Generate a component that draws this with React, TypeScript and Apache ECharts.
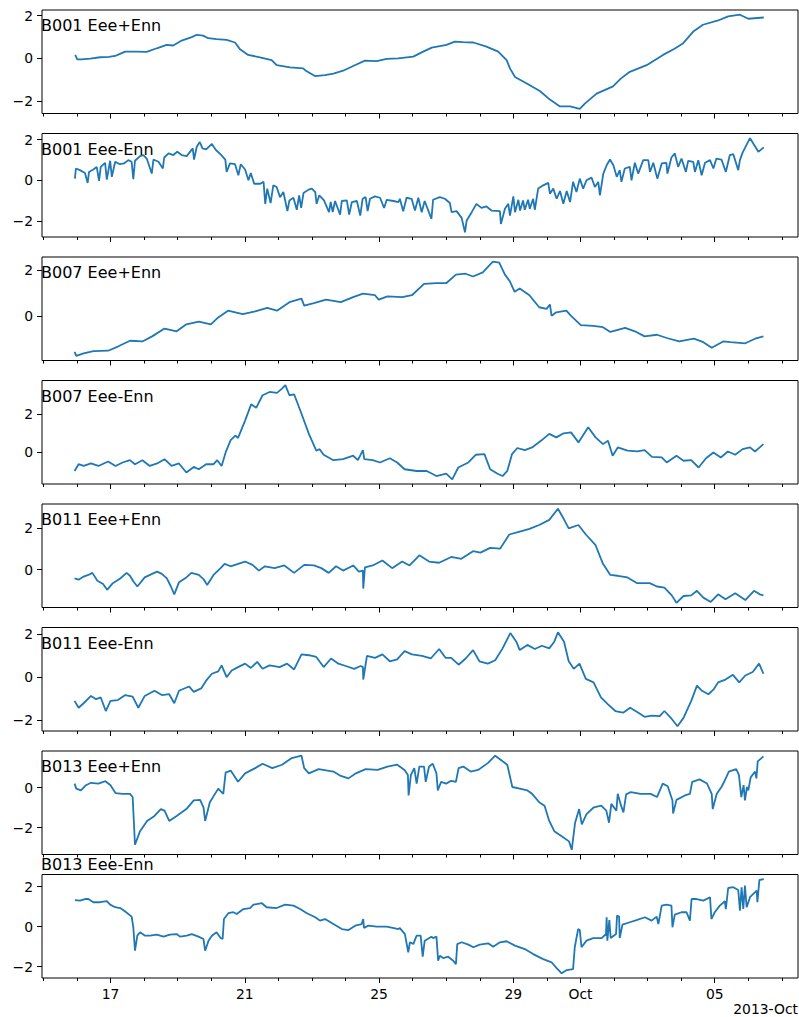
import React, { useEffect, useRef } from "react";
import * as echarts from "echarts";

// x values are calendar days counted from 1 Sep 2013 (Sep 17 -> 17, Oct 1 -> 31, Oct 5 -> 35)
const panelTitles = [
  "B001 Eee+Enn",
  "B001 Eee-Enn",
  "B007 Eee+Enn",
  "B007 Eee-Enn",
  "B011 Eee+Enn",
  "B011 Eee-Enn",
  "B013 Eee+Enn",
  "B013 Eee-Enn",
];

const b001Sum: [number, number][] = [
  [15.95, 0.16], [16.01, -0.05], [16.14, -0.05], [16.4, -0.01], [16.69, 0.05], [16.95, 0.07],
  [17.14, 0.11], [17.3, 0.22], [17.44, 0.31], [17.75, 0.31], [18.08, 0.3], [18.38, 0.47],
  [18.67, 0.63], [18.87, 0.6], [19.12, 0.83], [19.42, 0.99], [19.57, 1.1], [19.76, 1.06],
  [19.91, 0.94], [20.16, 0.9], [20.46, 0.86], [20.71, 0.74], [20.86, 0.42], [21.1, 0.16],
  [21.45, 0.05], [21.8, -0.08], [21.95, -0.32], [22.35, -0.42], [22.74, -0.47], [22.82, -0.58],
  [23.09, -0.83], [23.39, -0.79], [23.64, -0.71], [23.93, -0.58], [24.23, -0.36], [24.58, -0.11],
  [24.93, -0.13], [25.23, -0.03], [25.57, 0.0], [26.02, 0.08], [26.3, 0.3], [26.57, 0.5],
  [27.01, 0.63], [27.26, 0.78], [27.5, 0.76], [27.81, 0.74], [28.2, 0.55], [28.55, 0.31],
  [28.8, -0.08], [28.9, -0.47], [29.05, -0.87], [29.4, -1.18], [29.79, -1.53], [30.09, -1.93],
  [30.39, -2.25], [30.69, -2.25], [30.98, -2.36], [31.13, -2.12], [31.48, -1.65], [31.97, -1.31],
  [32.2, -0.95], [32.47, -0.63], [32.97, -0.32], [33.46, 0.16], [33.8, 0.45], [34.06, 0.71],
  [34.36, 1.25], [34.65, 1.57], [35.1, 1.77], [35.4, 1.96], [35.75, 2.04], [36.0, 1.85],
  [36.46, 1.91],
];

const b001Diff: [number, number][] = [
  [15.94, 0.08], [15.97, 0.58], [16.09, 0.5], [16.24, 0.36], [16.32, -0.13], [16.36, 0.41],
  [16.49, 0.53], [16.59, 0.66], [16.66, -0.03], [16.71, 0.66], [16.84, 0.86], [16.89, 0.03],
  [16.99, 0.96], [17.04, 0.17], [17.14, 0.91], [17.28, 0.79], [17.4, 0.83], [17.53, 0.99],
  [17.63, 0.91], [17.68, 0.05], [17.73, 0.96], [17.88, 1.19], [17.98, 1.24], [18.08, 1.07],
  [18.23, 0.33], [18.28, 1.02], [18.43, 0.91], [18.56, 0.58], [18.6, 1.12], [18.73, 1.32],
  [18.87, 1.24], [18.99, 1.4], [19.12, 1.24], [19.27, 1.19], [19.45, 1.57], [19.49, 1.02],
  [19.57, 1.65], [19.66, 1.88], [19.74, 1.57], [19.85, 1.52], [20.02, 1.79], [20.14, 1.49],
  [20.28, 1.27], [20.42, 1.02], [20.46, 0.41], [20.56, 0.83], [20.71, 0.79], [20.81, 0.25],
  [20.88, 0.79], [21.01, 0.53], [21.11, 0.0], [21.18, 0.36], [21.28, -0.17], [21.46, -0.17],
  [21.56, -0.08], [21.61, -1.16], [21.67, -0.41], [21.77, -1.12], [21.85, -0.25], [21.95, -0.33],
  [22.05, -0.83], [22.15, -0.58], [22.27, -1.52], [22.33, -0.99], [22.45, -0.86], [22.55, -1.45],
  [22.62, -0.74], [22.68, -1.36], [22.75, -0.63], [22.9, -0.46], [23.0, -0.41], [23.1, -0.58],
  [23.14, -1.16], [23.22, -0.74], [23.36, -0.99], [23.51, -1.57], [23.56, -1.07], [23.62, -1.57],
  [23.69, -1.02], [23.84, -1.69], [23.89, -1.02], [24.04, -0.99], [24.11, -1.69], [24.19, -1.07],
  [24.34, -1.02], [24.44, -1.74], [24.51, -0.91], [24.6, -0.83], [24.66, -1.52], [24.73, -0.91],
  [24.88, -0.79], [25.03, -0.86], [25.15, -1.36], [25.23, -0.96], [25.43, -1.02], [25.58, -1.07],
  [25.62, -0.91], [25.72, -1.52], [25.82, -0.86], [25.97, -0.91], [26.07, -1.49], [26.17, -0.86],
  [26.27, -1.57], [26.36, -1.02], [26.56, -1.9], [26.61, -0.96], [26.81, -0.83], [26.96, -0.91],
  [27.11, -1.12], [27.16, -1.57], [27.31, -1.52], [27.46, -1.85], [27.56, -2.56], [27.61, -1.98],
  [27.76, -1.57], [27.9, -1.16], [28.05, -1.36], [28.2, -1.29], [28.35, -1.49], [28.6, -1.52],
  [28.63, -2.15], [28.75, -1.4], [28.85, -1.16], [28.9, -1.74], [29.0, -0.79], [29.05, -1.57],
  [29.15, -0.96], [29.2, -1.49], [29.29, -0.99], [29.34, -1.45], [29.44, -0.96], [29.49, -1.4],
  [29.59, -0.91], [29.64, -1.45], [29.74, -0.41], [29.89, -0.25], [30.04, -0.13], [30.09, -0.66],
  [30.19, -0.41], [30.29, -0.91], [30.39, -0.53], [30.49, -1.16], [30.59, -0.53], [30.69, -1.07],
  [30.78, -0.08], [30.88, -0.58], [30.98, 0.08], [31.08, -0.41], [31.18, 0.0], [31.33, 0.13],
  [31.43, -0.33], [31.53, -0.08], [31.58, -0.74], [31.68, 0.33], [31.78, 0.74], [31.88, 1.02],
  [31.98, 0.74], [32.08, 0.17], [32.17, 0.5], [32.22, -0.08], [32.32, 0.58], [32.47, 0.66],
  [32.52, 0.0], [32.62, 0.86], [32.72, 0.33], [32.87, 0.99], [33.02, 0.99], [33.07, 0.41],
  [33.17, 0.86], [33.29, 0.08], [33.42, 0.83], [33.56, 0.86], [33.59, 0.33], [33.71, 1.12],
  [33.81, 1.32], [33.91, 0.66], [34.01, 1.07], [34.14, 0.41], [34.21, 0.96], [34.36, 0.91],
  [34.41, 0.41], [34.51, 0.99], [34.61, 0.25], [34.71, 0.86], [34.86, 0.99], [34.96, 0.58],
  [35.05, 1.07], [35.2, 1.02], [35.33, 0.41], [35.45, 1.24], [35.55, 1.29], [35.7, 0.5],
  [35.75, 0.99], [35.83, 1.36], [36.05, 2.07], [36.3, 1.4], [36.46, 1.62],
];

const b007Sum: [number, number][] = [
  [15.93, -1.53], [15.98, -1.7], [16.2, -1.6], [16.49, -1.5], [16.93, -1.48], [17.22, -1.3],
  [17.58, -1.05], [17.95, -1.08], [18.24, -0.86], [18.61, -0.52], [18.97, -0.64], [19.26, -0.34],
  [19.63, -0.22], [19.99, -0.34], [20.21, -0.04], [20.5, 0.25], [20.94, 0.1], [21.31, 0.22],
  [21.67, 0.37], [21.96, 0.25], [22.33, 0.62], [22.69, 0.77], [22.77, 0.47], [23.06, 0.58],
  [23.42, 0.73], [23.86, 0.62], [24.23, 0.84], [24.52, 0.99], [24.88, 0.92], [24.99, 0.73],
  [25.25, 0.87], [25.69, 0.84], [25.98, 0.92], [26.34, 1.41], [26.71, 1.44], [27.0, 1.44],
  [27.29, 1.81], [27.58, 1.85], [27.8, 1.73], [28.09, 1.91], [28.39, 2.37], [28.58, 2.33],
  [28.75, 1.81], [28.9, 1.51], [29.04, 1.07], [29.19, 1.21], [29.48, 0.92], [29.77, 0.4],
  [29.99, 0.33], [30.09, 0.52], [30.14, 0.03], [30.28, 0.18], [30.58, 0.25], [30.72, 0.03],
  [31.01, -0.37], [31.38, -0.41], [31.67, -0.46], [31.89, -0.67], [32.33, -0.49], [32.62, -0.64],
  [32.91, -0.86], [33.28, -0.79], [33.57, -0.93], [33.94, -1.08], [34.38, -0.96], [34.66, -1.11],
  [34.91, -1.35], [35.25, -1.08], [35.47, -1.11], [35.91, -1.16], [36.2, -0.96], [36.45, -0.86],
];

const b007Diff: [number, number][] = [
  [15.93, -0.96], [16.05, -0.61], [16.2, -0.7], [16.42, -0.57], [16.64, -0.7], [16.93, -0.47],
  [17.15, -0.7], [17.36, -0.52], [17.58, -0.4], [17.73, -0.61], [17.95, -0.4], [18.17, -0.7],
  [18.39, -0.57], [18.61, -0.35], [18.82, -0.7], [19.04, -0.57], [19.26, -1.04], [19.48, -0.75],
  [19.63, -0.87], [19.85, -0.61], [20.07, -0.61], [20.18, -0.4], [20.31, -0.7], [20.43, 0.0],
  [20.58, 0.64], [20.72, 0.87], [20.8, 0.75], [21.01, 1.65], [21.19, 2.49], [21.34, 2.31],
  [21.53, 2.96], [21.74, 3.13], [21.96, 3.08], [22.11, 3.3], [22.21, 3.48], [22.33, 2.96],
  [22.47, 3.01], [22.69, 2.0], [22.91, 0.96], [23.13, 0.09], [23.23, 0.17], [23.35, -0.12],
  [23.64, -0.4], [23.93, -0.35], [24.23, -0.17], [24.37, -0.4], [24.52, 0.12], [24.56, -0.35],
  [24.81, -0.4], [25.03, -0.52], [25.32, -0.3], [25.54, -0.52], [25.76, -0.87], [26.12, -0.96],
  [26.42, -0.96], [26.71, -1.22], [27.0, -1.1], [27.18, -1.39], [27.36, -0.78], [27.66, -0.52],
  [27.88, -0.12], [28.14, -0.09], [28.31, -0.87], [28.53, -1.1], [28.68, -1.22], [28.82, -0.96],
  [28.96, -0.09], [29.12, 0.23], [29.34, 0.12], [29.56, 0.26], [29.85, 0.64], [30.07, 0.96],
  [30.28, 0.78], [30.5, 0.99], [30.72, 1.04], [30.94, 0.52], [31.23, 1.3], [31.45, 0.78],
  [31.67, 0.43], [31.82, 0.61], [31.96, -0.17], [32.11, 0.26], [32.4, 0.09], [32.69, 0.05],
  [32.91, 0.12], [33.13, -0.23], [33.42, -0.26], [33.57, -0.52], [33.86, -0.17], [34.07, -0.43],
  [34.3, -0.4], [34.52, -0.78], [34.74, -0.3], [34.96, 0.0], [35.18, -0.26], [35.39, 0.05],
  [35.61, -0.12], [35.83, 0.17], [36.05, 0.26], [36.2, 0.05], [36.34, 0.26], [36.45, 0.43],
];

const b011Sum: [number, number][] = [
  [15.93, -0.43], [16.05, -0.49], [16.2, -0.34], [16.34, -0.26], [16.46, -0.16], [16.61, -0.54],
  [16.78, -0.7], [16.9, -0.98], [17.07, -0.66], [17.29, -0.43], [17.48, -0.16], [17.58, -0.3],
  [17.69, -0.59], [17.8, -0.82], [18.02, -0.38], [18.24, -0.21], [18.39, -0.1], [18.53, -0.21],
  [18.68, -0.43], [18.8, -0.82], [18.9, -1.2], [19.04, -0.62], [19.26, -0.38], [19.41, -0.16],
  [19.63, -0.26], [19.77, -0.46], [19.88, -0.75], [20.07, -0.26], [20.28, 0.07], [20.4, 0.28],
  [20.58, 0.16], [20.8, 0.28], [21.01, 0.39], [21.23, 0.23], [21.42, -0.05], [21.6, 0.16],
  [21.89, 0.07], [22.18, 0.2], [22.47, -0.16], [22.77, 0.23], [23.06, 0.2], [23.28, 0.07],
  [23.5, -0.16], [23.72, 0.16], [23.93, -0.05], [24.23, 0.2], [24.4, -0.1], [24.52, -0.05],
  [24.53, -0.92], [24.58, 0.11], [24.81, 0.2], [25.1, 0.44], [25.39, 0.07], [25.69, 0.39],
  [25.91, 0.2], [26.2, 0.69], [26.49, 0.39], [26.79, 0.33], [27.15, 0.61], [27.45, 0.52],
  [27.8, 0.89], [28.02, 0.82], [28.31, 1.05], [28.61, 1.02], [28.88, 1.7], [29.19, 1.84],
  [29.48, 1.97], [29.77, 2.16], [30.07, 2.41], [30.33, 2.95], [30.5, 2.46], [30.65, 2.0],
  [30.94, 2.16], [31.16, 1.7], [31.45, 1.18], [31.67, 0.28], [31.89, -0.26], [32.11, -0.3],
  [32.4, -0.38], [32.69, -0.66], [33.06, -0.66], [33.28, -0.82], [33.5, -0.87], [33.72, -1.25],
  [33.86, -1.61], [34.07, -1.28], [34.3, -1.25], [34.47, -1.03], [34.66, -1.36], [34.88, -1.57],
  [35.1, -1.2], [35.32, -1.44], [35.61, -1.15], [35.91, -1.48], [36.17, -1.03], [36.34, -1.2],
  [36.45, -1.25],
];

const b011Diff: [number, number][] = [
  [15.93, -1.1], [16.05, -1.42], [16.2, -1.21], [16.42, -0.87], [16.57, -1.02], [16.71, -0.94],
  [16.86, -1.57], [17.0, -1.1], [17.22, -1.06], [17.44, -0.83], [17.66, -0.9], [17.83, -1.42],
  [18.02, -0.87], [18.31, -0.63], [18.53, -0.83], [18.75, -0.79], [18.9, -1.21], [19.04, -0.63],
  [19.34, -0.43], [19.48, -0.68], [19.7, -0.52], [19.85, -0.16], [20.02, 0.16], [20.21, 0.27],
  [20.31, 0.55], [20.46, 0.0], [20.61, 0.31], [20.8, 0.47], [21.01, 0.63], [21.18, 0.43],
  [21.37, 0.71], [21.53, 0.39], [21.74, 0.55], [22.04, 0.47], [22.26, 0.63], [22.47, 0.36],
  [22.69, 1.06], [22.91, 1.02], [23.13, 0.94], [23.35, 0.47], [23.57, 0.87], [23.79, 0.63],
  [24.01, 0.52], [24.26, 0.39], [24.45, 0.52], [24.52, 0.47], [24.53, -0.11], [24.64, 0.99],
  [24.88, 0.9], [25.1, 1.06], [25.32, 0.74], [25.54, 0.83], [25.76, 1.21], [25.98, 1.06],
  [26.28, 0.99], [26.54, 0.87], [26.79, 1.31], [26.98, 0.9], [27.15, 0.9], [27.37, 0.58],
  [27.58, 0.87], [27.8, 1.26], [27.99, 0.74], [28.24, 0.63], [28.46, 0.79], [28.68, 1.34],
  [28.91, 2.05], [29.09, 1.65], [29.19, 1.26], [29.42, 1.5], [29.64, 1.31], [29.85, 1.46],
  [30.07, 1.34], [30.22, 1.65], [30.33, 2.09], [30.51, 1.65], [30.65, 0.74], [30.8, 0.39],
  [30.97, 0.63], [31.16, -0.08], [31.39, -0.24], [31.61, -0.94], [31.82, -1.26], [32.04, -1.57],
  [32.27, -1.65], [32.48, -1.42], [32.69, -1.62], [32.91, -1.84], [33.13, -1.78], [33.36, -1.81],
  [33.5, -1.57], [33.72, -1.94], [33.89, -2.28], [34.07, -1.89], [34.3, -1.1], [34.47, -0.39],
  [34.62, -0.63], [34.81, -0.79], [34.96, -0.58], [35.1, -0.24], [35.32, -0.11], [35.54, 0.11],
  [35.73, -0.24], [35.91, 0.08], [36.13, 0.24], [36.32, 0.63], [36.45, 0.16],
];

const b013Sum: [number, number][] = [
  [15.93, 0.2], [15.98, -0.05], [16.12, -0.14], [16.27, 0.12], [16.42, 0.24], [16.64, 0.2],
  [16.85, 0.32], [17.0, 0.12], [17.15, -0.27], [17.36, -0.31], [17.58, -0.31], [17.66, -0.47],
  [17.73, -2.85], [17.88, -2.17], [18.09, -1.66], [18.31, -1.41], [18.5, -1.07], [18.61, -1.15],
  [18.75, -1.66], [18.97, -1.41], [19.26, -1.07], [19.48, -0.64], [19.67, -0.61], [19.77, -0.98],
  [19.82, -1.66], [19.96, -0.73], [20.21, -0.05], [20.36, -0.31], [20.43, 0.75], [20.58, 0.85],
  [20.8, 0.29], [21.01, 0.71], [21.31, 0.97], [21.53, 1.19], [21.82, 0.97], [22.11, 1.14],
  [22.4, 1.47], [22.69, 1.59], [22.77, 0.97], [22.91, 0.71], [23.2, 0.92], [23.64, 0.8],
  [23.86, 0.58], [24.09, 0.46], [24.31, 0.71], [24.6, 0.92], [24.96, 0.88], [25.25, 1.05],
  [25.54, 1.14], [25.76, 0.88], [25.86, 0.63], [25.88, -0.39], [25.95, 0.63], [26.05, 0.97],
  [26.12, 0.2], [26.2, 1.05], [26.34, 1.05], [26.39, 0.29], [26.49, 1.05], [26.6, 1.19],
  [26.71, 0.71], [26.75, -0.14], [26.85, 0.29], [27.0, 0.2], [27.15, 0.34], [27.29, 0.29],
  [27.37, 0.97], [27.51, 1.05], [27.73, 0.8], [27.95, 0.88], [28.24, 1.22], [28.46, 1.59],
  [28.68, 1.31], [28.82, 1.14], [28.97, 0.03], [29.19, -0.05], [29.42, -0.14], [29.56, -0.31],
  [29.77, -0.73], [29.93, -0.9], [30.07, -1.66], [30.22, -2.17], [30.44, -2.42], [30.66, -2.68],
  [30.74, -3.1], [30.84, -1.75], [30.96, -1.07], [31.04, -1.83], [31.18, -1.32], [31.4, -0.98],
  [31.62, -0.9], [31.77, -1.15], [31.85, -1.75], [31.92, -0.81], [32.07, -1.15], [32.11, -0.31],
  [32.21, -0.9], [32.28, -1.24], [32.36, -0.34], [32.5, -0.22], [32.79, -0.31], [33.09, -0.31],
  [33.28, -0.47], [33.45, 0.2], [33.6, 0.07], [33.74, -0.64], [33.76, -1.29], [33.86, -0.61],
  [34.11, -0.39], [34.26, -0.31], [34.33, 0.29], [34.55, 0.41], [34.77, 0.2], [34.91, -0.31],
  [34.94, -1.07], [35.06, -0.31], [35.2, 0.03], [35.28, 0.29], [35.42, 0.8], [35.64, 0.92],
  [35.72, 0.63], [35.79, -0.47], [35.86, 0.12], [35.9, -0.64], [35.96, 0.03], [36.0, -0.14],
  [36.07, 0.51], [36.2, 0.8], [36.24, 0.46], [36.28, 1.31], [36.45, 1.56],
];

const b013Diff: [number, number][] = [
  [15.94, 1.33], [16.09, 1.3], [16.24, 1.38], [16.34, 1.38], [16.49, 1.22], [16.69, 1.22],
  [16.89, 1.27], [16.99, 1.1], [17.14, 0.97], [17.29, 0.93], [17.43, 0.77], [17.63, 0.5],
  [17.68, -0.03], [17.73, -1.2], [17.8, -0.45], [17.88, -0.28], [18.03, -0.45], [18.18, -0.45],
  [18.38, -0.4], [18.58, -0.5], [18.77, -0.4], [18.97, -0.37], [19.07, -0.5], [19.27, -0.45],
  [19.42, -0.37], [19.62, -0.5], [19.77, -0.62], [19.82, -1.2], [19.92, -0.7], [20.02, -0.45],
  [20.16, -0.28], [20.28, -0.57], [20.34, -0.62], [20.38, 0.38], [20.51, 0.67], [20.66, 0.72],
  [20.76, 0.63], [20.96, 0.88], [21.16, 0.93], [21.26, 1.1], [21.51, 1.17], [21.65, 0.97],
  [21.95, 0.93], [22.2, 1.1], [22.45, 1.05], [22.65, 0.88], [22.85, 0.67], [23.1, 0.47],
  [23.24, 0.3], [23.39, 0.38], [23.64, 0.13], [23.89, -0.12], [24.09, -0.17], [24.29, 0.05],
  [24.48, 0.13], [24.53, 0.38], [24.55, -0.07], [24.68, 0.05], [24.93, 0.0], [25.23, 0.0],
  [25.58, -0.12], [25.62, -0.07], [25.77, -0.37], [25.87, -1.28], [25.92, -0.78], [26.02, -0.87],
  [26.12, -0.45], [26.24, -0.45], [26.3, -1.5], [26.36, -0.7], [26.56, -0.5], [26.61, -0.57],
  [26.71, -0.5], [26.76, -1.7], [26.81, -1.45], [26.91, -1.57], [27.06, -1.5], [27.21, -1.7],
  [27.29, -1.87], [27.33, -0.87], [27.46, -0.78], [27.66, -0.9], [27.81, -1.03], [28.0, -0.9],
  [28.25, -0.83], [28.4, -1.0], [28.6, -0.78], [28.8, -0.73], [29.05, -0.95], [29.34, -1.12],
  [29.59, -1.37], [29.89, -1.62], [30.14, -1.78], [30.29, -2.07], [30.44, -2.33], [30.59, -2.17],
  [30.78, -2.12], [30.83, -1.03], [30.93, -0.12], [30.98, -0.17], [31.03, -1.03], [31.18, -0.7],
  [31.38, -0.57], [31.63, -0.57], [31.76, -0.37], [31.78, 0.47], [31.8, -0.7], [31.86, 0.33],
  [31.9, -0.57], [32.06, -0.37], [32.09, 0.55], [32.15, 0.5], [32.17, -0.57], [32.25, 0.1],
  [32.47, 0.22], [32.67, 0.33], [32.92, 0.47], [33.12, 0.3], [33.27, 0.5], [33.32, 0.13],
  [33.42, 1.05], [33.56, 1.1], [33.71, 1.05], [33.74, -0.03], [33.81, 0.6], [34.01, 0.72],
  [34.16, 0.72], [34.26, 0.3], [34.31, 1.38], [34.46, 1.38], [34.66, 1.3], [34.86, 1.47],
  [34.9, 0.38], [35.0, 0.72], [35.15, 1.05], [35.3, 1.27], [35.33, 0.88], [35.4, 1.93],
  [35.55, 1.97], [35.7, 1.83], [35.75, 0.8], [35.8, 1.97], [35.85, 0.88], [35.9, 2.05],
  [35.95, 0.97], [36.05, 1.47], [36.25, 1.8], [36.27, 1.22], [36.33, 2.33], [36.46, 2.37],
];

const panelSeries = [b001Sum, b001Diff, b007Sum, b007Diff, b011Sum, b011Diff, b013Sum, b013Diff];

// shared date axis: major ticks with labels, daily minor ticks
const majorTickDays = [17, 21, 25, 29, 31, 35];
const majorTickLabels = ["17", "21", "25", "29", "Oct", "05"];
const minorTickDays = [15, 16, 18, 19, 20, 22, 23, 24, 26, 27, 28, 30, 32, 33, 34, 36, 37];
const dateOffsetLabel = "2013-Oct";

const X_MIN = 14.96;
const X_MAX = 37.48;
const GRID_LEFT = 42;
const GRID_WIDTH = 756;
const GRID_TOP0 = 10;
const GRID_PITCH = 123.5;
const GRID_HEIGHT = 103.5;
const LINE_COLOR = "#1f77b4";
const FONT = "DejaVu Sans";
const TICK_FONT_SIZE = 13.9;

function yLimits(data: [number, number][]) {
  let lo = Infinity;
  let hi = -Infinity;
  for (const [, v] of data) {
    if (v < lo) lo = v;
    if (v > hi) hi = v;
  }
  const pad = (hi - lo) * 0.05;
  return [lo - pad, hi + pad];
}

function evenTicks(min: number, max: number) {
  const out: number[] = [];
  for (let t = Math.ceil(min / 2) * 2; t <= max; t += 2) out.push(t === 0 ? 0 : t);
  return out;
}

function formatY(v: number) {
  return v < 0 ? "\u2212" + Math.abs(v) : String(Math.abs(v));
}

function tickAxis(i: number, values: number[], length: number, withLabels: boolean) {
  return {
    type: "value",
    gridIndex: i,
    min: X_MIN,
    max: X_MAX,
    position: "bottom",
    axisLine: { show: false, onZero: false },
    splitLine: { show: false },
    axisTick: {
      show: true,
      customValues: values,
      length,
      lineStyle: { color: "#000", width: 1 },
    },
    axisLabel: withLabels
      ? {
          show: true,
          customValues: values,
          formatter: (v: number) => {
            const k = majorTickDays.indexOf(Math.round(v));
            return k >= 0 ? majorTickLabels[k] : "";
          },
          fontFamily: FONT,
          fontSize: TICK_FONT_SIZE,
          color: "#000",
          margin: 9,
        }
      : { show: false },
  };
}

function buildOption() {
  const grid: any[] = [];
  const xAxis: any[] = [];
  const yAxis: any[] = [];
  const series: any[] = [];
  const graphic: any[] = [];
  const last = panelSeries.length - 1;

  panelSeries.forEach((data, i) => {
    const top = GRID_TOP0 + i * GRID_PITCH;
    grid.push({
      left: GRID_LEFT,
      top,
      width: GRID_WIDTH,
      height: GRID_HEIGHT,
      show: true,
      borderColor: "#000",
      borderWidth: 1,
      backgroundColor: "transparent",
    });
    xAxis.push(tickAxis(i, majorTickDays, 5, i === last));
    xAxis.push(tickAxis(i, minorTickDays, 3, false));
    const [ymin, ymax] = yLimits(data);
    const ticks = evenTicks(ymin, ymax);
    yAxis.push({
      type: "value",
      gridIndex: i,
      min: ymin,
      max: ymax,
      axisLine: { show: false, onZero: false },
      splitLine: { show: false },
      axisTick: {
        show: true,
        customValues: ticks,
        length: 5,
        lineStyle: { color: "#000", width: 1 },
      },
      axisLabel: {
        customValues: ticks,
        formatter: formatY,
        fontFamily: FONT,
        fontSize: TICK_FONT_SIZE,
        color: "#000",
        margin: 9,
      },
    });
    series.push({
      type: "line",
      xAxisIndex: i * 2,
      yAxisIndex: i,
      data,
      showSymbol: false,
      symbol: "none",
      lineStyle: { color: LINE_COLOR, width: 1.8 },
      clip: true,
    });
    graphic.push({
      type: "text",
      x: 41,
      y: i === last ? 864.5 : top + 15.8,
      z: 100,
      style: {
        text: panelTitles[i],
        fontFamily: FONT,
        fontSize: 16,
        fill: "#000",
        align: "left",
        verticalAlign: "middle",
      },
    });
  });

  graphic.push({
    type: "text",
    x: 798,
    y: 1009,
    z: 100,
    style: {
      text: dateOffsetLabel,
      fontFamily: FONT,
      fontSize: TICK_FONT_SIZE,
      fill: "#000",
      align: "right",
      verticalAlign: "middle",
    },
  });

  return {
    animation: false,
    backgroundColor: "#fff",
    grid,
    xAxis,
    yAxis,
    series,
    graphic,
  };
}

export default function App() {
  const ref = useRef<HTMLDivElement>(null);
  useEffect(() => {
    if (!ref.current) return;
    const chart = echarts.init(ref.current, undefined, { renderer: "svg" });
    chart.setOption(buildOption());
    return () => chart.dispose();
  }, []);
  return (
    <div
      ref={ref}
      style={{ position: "absolute", left: 0, top: 0, width: 799, height: 1017 }}
    />
  );
}
